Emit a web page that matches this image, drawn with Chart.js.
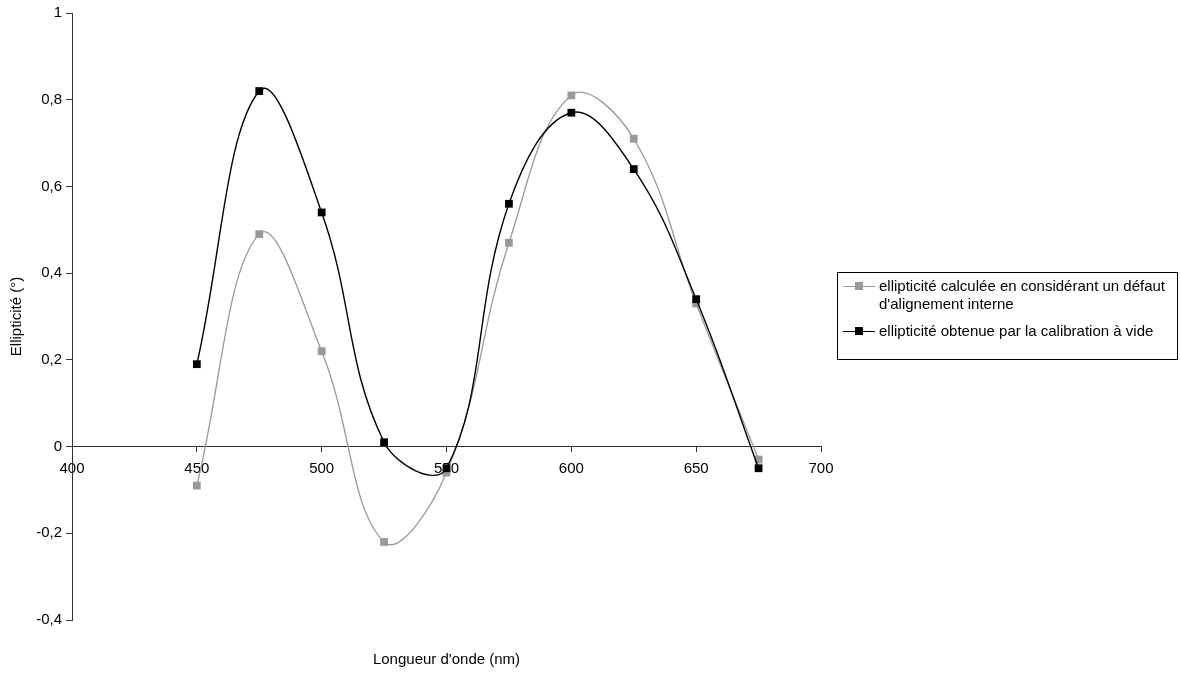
<!DOCTYPE html>
<html>
<head>
<meta charset="utf-8">
<script src="https://cdn.jsdelivr.net/npm/chart.js@4.4.0/dist/chart.umd.min.js"></script>
<style>
  body { margin: 0; background: #fff; }
  #wrap { position: relative; width: 1180px; height: 673px; }
  #legend {
    position: absolute; left: 837px; top: 272px; width: 341px; height: 88px;
    border: 1px solid #000; box-sizing: border-box; background: #fff;
    font-family: "Liberation Sans", Arial, sans-serif; font-size: 15px; color: #000;
  }
  .item { position: absolute; left: 5px; line-height: 18px; }
  .item .txt { position: absolute; left: 36px; top: 0; width: 300px; white-space: nowrap; }
  .sample { position: absolute; left: 0; top: 9px; width: 32px; height: 1px; }
  .sample i { position: absolute; left: 12px; top: -4px; width: 8px; height: 8px; }
</style>
</head>
<body>
<div id="wrap">
  <canvas id="lineChart" width="1180" height="673"></canvas>
  <div id="legend"></div>
</div>
<script>
// data
var wavelengths = [450, 475, 500, 525, 550, 575, 600, 625, 650, 675];
var ellipCalculee = [-0.09, 0.49, 0.22, -0.22, -0.06, 0.47, 0.81, 0.71, 0.33, -0.03];
var ellipVide = [0.19, 0.82, 0.54, 0.01, -0.05, 0.56, 0.77, 0.64, 0.34, -0.05];
var seriesLabels = [
    ["ellipticité calculée en considérant un défaut", "d'alignement interne"],
    ["ellipticité obtenue par la calibration à vide"]
];
var seriesColors = ["#999999", "#000000"];
var xTitle = "Longueur d'onde (nm)";
var yTitle = "Ellipticité (°)";

function toPoints(values) {
    return wavelengths.map(function (x, i) { return { x: x, y: values[i] }; });
}

var font = "Liberation Sans, Arial, sans-serif";

// axis titles drawn relative to the chart area
var axisTitles = {
    id: 'axisTitles',
    afterDraw: function (chart) {
        var ctx = chart.ctx, area = chart.chartArea;
        ctx.save();
        ctx.fillStyle = '#000';
        ctx.font = '15px ' + font;
        ctx.textAlign = 'center';
        ctx.textBaseline = 'middle';
        ctx.fillText(xTitle, (area.left + area.right) / 2, 660);
        ctx.translate(17, (area.top + area.bottom) / 2);
        ctx.rotate(-Math.PI / 2);
        ctx.fillText(yTitle, 0, 0);
        ctx.restore();
    }
};

var LineConfig = {
    type: 'line',
    data: {
        datasets: [{
            label: seriesLabels[0].join(' '),
            data: toPoints(ellipCalculee),
            borderColor: seriesColors[0],
            backgroundColor: seriesColors[0],
            borderWidth: 1.3,
            pointStyle: 'rect',
            pointRadius: 5.5,
            pointBorderWidth: 0,
            tension: 0.4,
            order: 2
        }, {
            label: seriesLabels[1].join(' '),
            data: toPoints(ellipVide),
            borderColor: seriesColors[1],
            backgroundColor: seriesColors[1],
            borderWidth: 1.4,
            pointStyle: 'rect',
            pointRadius: 5.5,
            pointBorderWidth: 0,
            tension: 0.4,
            order: 1
        }]
    },
    options: {
        responsive: false,
        animation: false,
        layout: { padding: { left: 0, top: 12, right: 359, bottom: 53 } },
        plugins: {
            legend: { display: false },
            tooltip: { enabled: false }
        },
        scales: {
            x: {
                type: 'linear',
                position: { y: 0 },
                min: 400,
                max: 700,
                ticks: {
                    stepSize: 50,
                    color: '#000',
                    padding: 8,
                    maxRotation: 0,
                    font: { family: font, size: 15 }
                },
                grid: { drawOnChartArea: false, tickLength: 5, color: '#333' },
                border: { color: '#333', width: 1 }
            },
            y: {
                min: -0.4,
                max: 1,
                ticks: {
                    stepSize: 0.2,
                    color: '#000',
                    padding: 4,
                    font: { family: font, size: 15 },
                    callback: function (v) {
                        return String(Math.round(v * 10) / 10).replace('.', ',');
                    }
                },
                grid: { drawOnChartArea: false, tickLength: 6, color: '#333' },
                border: { color: '#333', width: 1 },
                afterFit: function (scale) { scale.width = 72; }
            }
        }
    },
    plugins: [axisTitles]
};

// html legend
var legend = document.getElementById('legend');
var tops = [4, 49];
seriesLabels.forEach(function (lines, i) {
    var item = document.createElement('div');
    item.className = 'item';
    item.style.top = tops[i] + 'px';
    item.innerHTML = '<span class="sample" style="background:' + seriesColors[i] + '"><i style="background:' +
        seriesColors[i] + '"></i></span><span class="txt">' + lines.join('<br>') + '</span>';
    legend.appendChild(item);
});

window.myLine = new Chart(document.getElementById('lineChart'), LineConfig);
</script>
</body>
</html>
